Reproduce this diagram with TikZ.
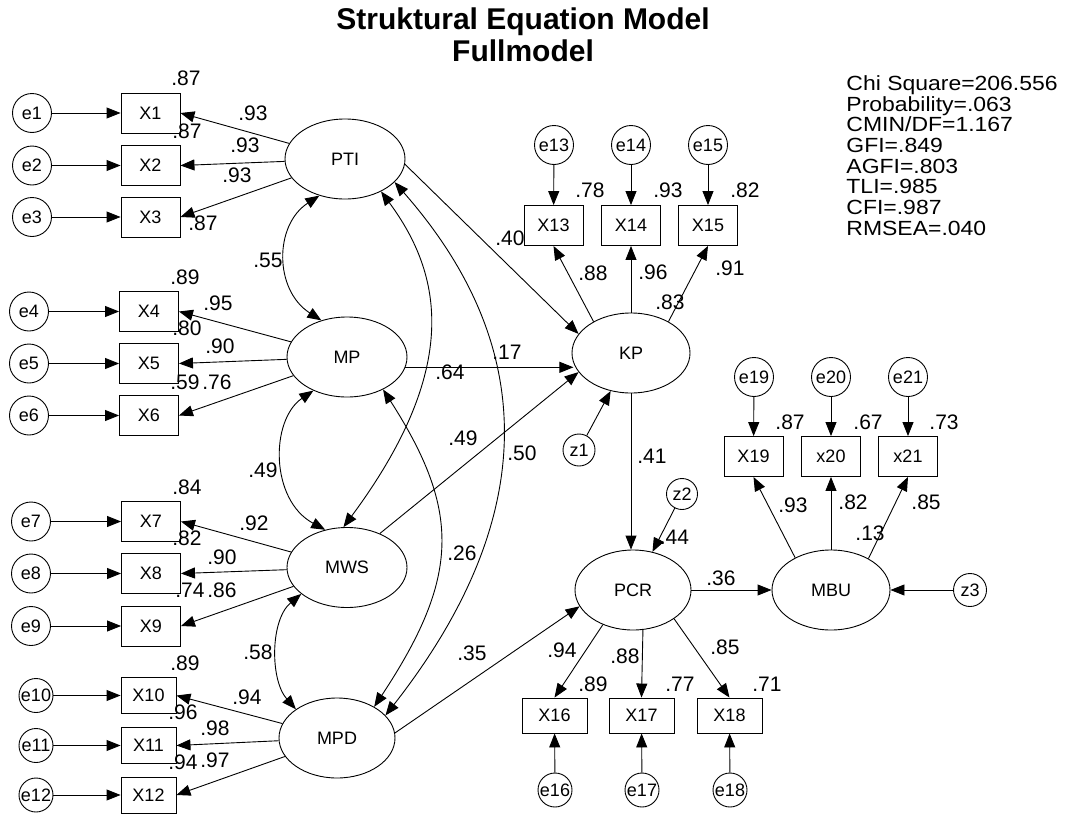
\documentclass[tikz,border=0pt]{standalone}
\usepackage{fontspec}
\setmainfont{Liberation Sans}
\newfontfamily\statfam[FakeStretch=1.12]{Liberation Sans}
\usetikzlibrary{shapes.geometric,arrows.meta}
\newcommand\nodefont{\fontsize{18}{20}\selectfont}
\newcommand\labfont{\fontsize{21}{23}\selectfont}
\newcommand\statfont{\statfam\fontsize{20.5}{22}\selectfont}
\newcommand\titlefont{\bfseries\fontsize{30}{32}\selectfont}
\tikzset{
  lat/.style={draw, ellipse, inner sep=0pt, minimum width=120pt, minimum height=80pt, font=\nodefont},
  obs/.style={draw, rectangle, inner sep=0pt, minimum width=59pt, minimum height=40pt, font=\nodefont},
  obsB/.style={obs, minimum width=55pt, minimum height=36pt},
  obsC/.style={obs, minimum width=65pt, minimum height=35pt},
  err/.style={draw, circle, inner sep=0pt, minimum size=39pt, font=\nodefont},
  errS/.style={err, minimum size=34pt},
  dist/.style={err, minimum size=32pt},
  lbl/.style={inner sep=0pt, font=\labfont},
  stat/.style={inner sep=0pt, font=\statfont, anchor=base west},
  arr/.style={-{Triangle[length=14pt,width=11pt]}},
  dbl/.style={{Triangle[length=14pt,width=11pt]}-{Triangle[length=14pt,width=11pt]}},
}
\begin{document}
\begin{tikzpicture}[x=1pt,y=-1pt,line width=0.9pt]
\fill[white] (0,0) rectangle (1066,814);
\useasboundingbox (0,0) rectangle (1066,814);

% title
\node[inner sep=0pt, font=\titlefont, anchor=base] (t1) at (523,29) {Struktural Equation Model};
\node[inner sep=0pt, font=\titlefont, anchor=base] (t2) at (523,61) {Fullmodel};

% fit statistics
\foreach \t [count=\i from 0] in {Chi Square=206.556,Probability=.063,CMIN/DF=1.167,GFI=.849,AGFI=.803,TLI=.985,CFI=.987,RMSEA=.040}
  \node[stat] (s\i) at (846,90.7+20.63*\i) {\t};

% latent variables
\node[lat] (PTI) at (345,159) {PTI};
\node[lat] (MP)  at (347,357) {MP};
\node[lat] (MWS) at (347,567.5) {MWS};
\node[lat, minimum width=116pt] (MPD) at (337,738) {MPD};
\node[lat, minimum width=118pt] (KP)  at (631,353) {KP};
\node[lat, minimum width=116pt] (PCR) at (633,590) {PCR};
\node[lat, minimum width=118pt] (MBU) at (831,590) {MBU};

% observed variables
\node[obs] (X1) at (150.5,113) {X1};
\node[obs] (X2) at (150.5,165.5) {X2};
\node[obs] (X3) at (150.5,217) {X3};
\node[obs] (X4) at (149,311.5) {X4};
\node[obs] (X5) at (149,363.5) {X5};
\node[obs] (X6) at (149,415.5) {X6};
\node[obs] (X7) at (151,521.5) {X7};
\node[obs] (X8) at (151,573.5) {X8};
\node[obs] (X9) at (151,626) {X9};
\node[obsB] (X10) at (148.5,695.5) {X10};
\node[obsB] (X11) at (148.5,745.5) {X11};
\node[obsB] (X12) at (148.5,795) {X12};
\node[obs] (X13) at (553.5,225.5) {X13};
\node[obs] (X14) at (631,225.5) {X14};
\node[obs] (X15) at (708,225.5) {X15};
\node[obsC] (X16) at (554.5,715.5) {X16};
\node[obsC] (X17) at (641.5,715.5) {X17};
\node[obsC] (X18) at (729.5,715.5) {X18};
\node[obs] (X19) at (753.5,456.5) {X19};
\node[obs] (X20) at (831,456.5) {x20};
\node[obs] (X21) at (908,456.5) {x21};

% error terms
\node[err] (e1) at (32,113) {e1};
\node[err] (e2) at (32,165.5) {e2};
\node[err] (e3) at (32,217) {e3};
\node[err] (e4) at (29,311.5) {e4};
\node[err] (e5) at (29,363.5) {e5};
\node[err] (e6) at (29,415.5) {e6};
\node[err] (e7) at (31,521.5) {e7};
\node[err] (e8) at (31,573.5) {e8};
\node[err] (e9) at (31,626) {e9};
\node[errS] (e10) at (36,695.5) {e10};
\node[errS] (e11) at (36,745.5) {e11};
\node[errS] (e12) at (36,795) {e12};
\node[err] (e13) at (554,145) {e13};
\node[err] (e14) at (631,145) {e14};
\node[err] (e15) at (708,145) {e15};
\node[errS] (e16) at (555,790) {e16};
\node[errS] (e17) at (642,790) {e17};
\node[errS] (e18) at (730,790) {e18};
\node[err] (e19) at (754,377) {e19};
\node[err] (e20) at (831,377) {e20};
\node[err] (e21) at (908,377) {e21};
\node[dist] (z1) at (579,450) {z1};
\node[dist, minimum size=31pt] (z2) at (682,494) {z2};
\node[dist, minimum size=33pt] (z3) at (970,590) {z3};

% labels
\node[lbl] (l1) at (186,78.5) {.87};
\node[lbl] (l2) at (253,113) {.93};
\node[lbl] (l3) at (187,131) {.87};
\node[lbl] (l4) at (245,145) {.93};
\node[lbl] (l5) at (237,175) {.93};
\node[lbl] (l6) at (203,223) {.87};
\node[lbl] (l7) at (185,277.5) {.89};
\node[lbl] (l8) at (218,303) {.95};
\node[lbl] (l9) at (187,328) {.80};
\node[lbl] (l10) at (220,346) {.90};
\node[lbl] (l11) at (185,382) {.59};
\node[lbl] (l12) at (217,382) {.76};
\node[lbl] (l13) at (187,487) {.84};
\node[lbl] (l14) at (254,523) {.92};
\node[lbl] (l15) at (187,538) {.82};
\node[lbl] (l16) at (222,557) {.90};
\node[lbl] (l17) at (190,590) {.74};
\node[lbl] (l18) at (222,590) {.86};
\node[lbl] (l19) at (185,663) {.89};
\node[lbl] (l20) at (247,697) {.94};
\node[lbl] (l21) at (183,712) {.96};
\node[lbl] (l22) at (215,728) {.98};
\node[lbl] (l23) at (183,762) {.94};
\node[lbl] (l24) at (215,760) {.97};
\node[lbl] (l25) at (268,260) {.55};
\node[lbl] (l26) at (263,470) {.49};
\node[lbl] (l27) at (258,652) {.58};
\node[lbl] (l28) at (510,238) {.40};
\node[lbl] (l29) at (450,372) {.64};
\node[lbl] (l30) at (507,352) {.17};
\node[lbl] (l31) at (463,438) {.49};
\node[lbl] (l32) at (522,453) {.50};
\node[lbl] (l33) at (462,553) {.26};
\node[lbl] (l34) at (472,653) {.35};
\node[lbl] (l35) at (652,456) {.41};
\node[lbl] (l36) at (674.5,537.5) {.44};
\node[lbl] (l37) at (590,190) {.78};
\node[lbl] (l38) at (668,190) {.93};
\node[lbl] (l39) at (745,190) {.82};
\node[lbl] (l40) at (593,273) {.88};
\node[lbl] (l41) at (653,272) {.96};
\node[lbl] (l42) at (670,302) {.83};
\node[lbl] (l43) at (730,268) {.91};
\node[lbl] (l44) at (562,650) {.94};
\node[lbl] (l45) at (625,656) {.88};
\node[lbl] (l46) at (725,647) {.85};
\node[lbl] (l47) at (593,684) {.89};
\node[lbl] (l48) at (680,684) {.77};
\node[lbl] (l49) at (767,684) {.71};
\node[lbl] (l50) at (721,578) {.36};
\node[lbl] (l51) at (790,422) {.87};
\node[lbl] (l52) at (868,422) {.67};
\node[lbl] (l53) at (944,422) {.73};
\node[lbl] (l54) at (793,505) {.93};
\node[lbl] (l55) at (853,502) {.82};
\node[lbl] (l56) at (926,502) {.85};
\node[lbl] (l57) at (870,533) {.13};

% error arrows
\foreach \i in {1,...,21} \draw[arr] (e\i) -- (X\i);
\draw[arr] (z1) -- (KP);
\draw[arr] (z2) -- (PCR);
\draw[arr] (z3) -- (MBU);

% loadings
\foreach \i in {1,2,3} \draw[arr] (PTI) -- (X\i.east);
\foreach \i in {4,5,6} \draw[arr] (MP) -- (X\i.east);
\foreach \i in {7,8,9} \draw[arr] (MWS) -- (X\i.east);
\foreach \i in {10,11,12} \draw[arr] (MPD) -- (X\i.east);
\draw[arr] (KP.140) -- (X13.south);
\draw[arr] (KP) -- (X14);
\draw[arr] (KP.40) -- (X15.south);
\draw[arr] (PCR.229) -- (X16.north);
\draw[arr] (PCR.-76) -- (X17.north);
\draw[arr] (PCR.-35) -- (X18.north);
\draw[arr] (MBU.138) -- (X19.south);
\draw[arr] (MBU) -- (X20);
\draw[arr] (MBU.40) -- (X21.south);

% structural paths
\draw[arr] (PTI.-5) -- (KP.160);
\draw[arr] (MP.-10) -- (MP.-10 -| KP.190);
\draw[arr] (MWS.46) -- (KP.200);
\draw[arr] (MPD.5) -- (PCR.197);
\draw[arr] (KP) -- (KP |- PCR.north);
\draw[arr] (PCR) -- (MBU);

% correlations
\draw[dbl] (PTI.235) .. controls (274,225) and (274,290) .. (MP.125);
\draw[dbl] (MP.225) .. controls (270,420) and (270,500) .. (MWS.120);
\draw[dbl] (MWS.210) .. controls (270,620) and (270,680) .. (MPD.145);
\draw[dbl] (PTI.-42) .. controls (442,274) and (462,367) .. (MWS.95);
\draw[dbl] (MP.-42) .. controls (461,511) and (460,577) .. (MPD.40);
\draw[dbl] (PTI.-25) .. controls (543,351) and (536,523) .. (MPD.25);
\end{tikzpicture}
\end{document}
